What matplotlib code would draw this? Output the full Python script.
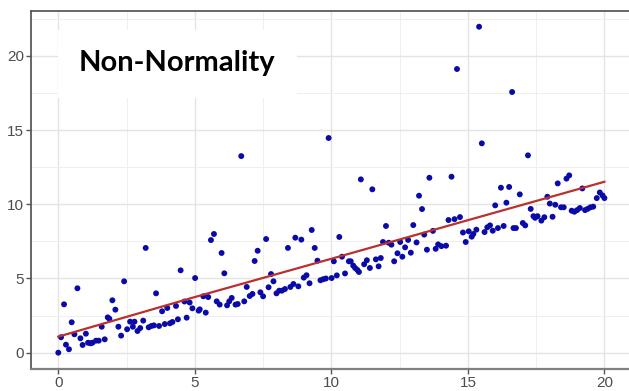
import numpy as np
import matplotlib
matplotlib.use("Agg")
from matplotlib import pyplot as plt
from matplotlib.patches import Rectangle

# scatter values
x = [0.00, 0.10, 0.21, 0.28, 0.39, 0.49, 0.59, 0.70, 0.81, 0.89,
     1.01, 1.09, 1.18, 1.25, 1.38, 1.48, 1.59, 1.70, 1.81, 1.87,
     1.98, 2.09, 2.20, 2.30, 2.41, 2.52, 2.63, 2.73, 2.79, 2.90,
     3.00, 3.11, 3.20, 3.31, 3.41, 3.50, 3.58, 3.69, 3.80, 3.90,
     3.99, 4.09, 4.18, 4.31, 4.38, 4.48, 4.62, 4.70, 4.81, 4.91,
     5.01, 5.14, 5.18, 5.31, 5.40, 5.49, 5.59, 5.70, 5.80, 5.91,
     5.98, 6.08, 6.18, 6.26, 6.35, 6.49, 6.57, 6.70, 6.81, 6.90,
     7.01, 7.11, 7.19, 7.30, 7.40, 7.50, 7.61, 7.70, 7.79, 7.88,
     7.99, 8.09, 8.19, 8.30, 8.41, 8.50, 8.61, 8.68, 8.79, 8.90,
     8.99, 9.09, 9.20, 9.28, 9.39, 9.49, 9.60, 9.70, 9.80, 9.90,
     10.01, 10.09, 10.20, 10.29, 10.39, 10.50, 10.64, 10.71, 10.80, 10.87,
     10.95, 11.01, 11.08, 11.20, 11.30, 11.41, 11.50, 11.63, 11.73, 11.81,
     11.89, 12.00, 12.10, 12.20, 12.30, 12.42, 12.52, 12.60, 12.70, 12.81,
     12.91, 13.00, 13.12, 13.21, 13.32, 13.40, 13.50, 13.59, 13.72, 13.82,
     13.91, 14.03, 14.20, 14.29, 14.40, 14.51, 14.60, 14.71, 14.82, 14.92,
     15.03, 15.14, 15.20, 15.31, 15.41, 15.51, 15.61, 15.71, 15.81, 15.91,
     16.00, 16.10, 16.21, 16.31, 16.41, 16.51, 16.62, 16.67, 16.76, 16.90,
     17.01, 17.10, 17.20, 17.30, 17.40, 17.46, 17.55, 17.69, 17.80, 17.91,
     18.00, 18.10, 18.20, 18.29, 18.41, 18.51, 18.61, 18.71, 18.80, 18.90,
     19.00, 19.10, 19.19, 19.29, 19.39, 19.49, 19.59, 19.72, 19.83, 19.93,
     20.00]
y = [0.00, 1.04, 3.26, 0.54, 0.23, 2.05, 1.24, 4.34, 0.97, 0.52,
     1.28, 0.67, 0.63, 0.67, 0.81, 0.81, 1.75, 0.90, 2.38, 2.29,
     3.53, 2.90, 1.75, 1.15, 4.81, 1.58, 2.09, 1.75, 2.09, 1.46,
     1.66, 2.16, 7.06, 1.71, 1.80, 1.84, 4.00, 1.80, 2.79, 1.93,
     3.01, 1.98, 2.07, 3.15, 2.25, 5.55, 3.45, 2.36, 3.38, 2.99,
     5.03, 2.83, 2.92, 3.80, 2.70, 3.75, 7.59, 8.00, 3.46, 3.24,
     6.72, 5.35, 3.19, 3.46, 3.69, 3.24, 3.28, 13.25, 3.46, 4.43,
     3.82, 3.96, 6.18, 6.87, 4.07, 3.80, 7.66, 4.41, 5.30, 4.81,
     4.00, 4.18, 4.18, 4.29, 7.06, 4.43, 4.63, 7.75, 4.47, 7.62,
     5.06, 5.22, 4.68, 8.27, 7.06, 6.20, 4.88, 4.95, 5.00, 14.47,
     5.03, 6.16, 5.21, 7.80, 6.47, 5.34, 6.16, 6.16, 5.87, 5.71,
     5.58, 5.44, 11.68, 5.96, 6.23, 5.71, 11.01, 6.29, 5.82, 6.38,
     7.46, 8.54, 7.41, 7.28, 6.16, 6.70, 7.46, 6.47, 7.10, 7.60,
     6.74, 8.60, 7.43, 10.58, 9.68, 7.96, 6.94, 11.79, 8.21, 7.00,
     7.30, 7.18, 7.21, 8.94, 11.86, 9.00, 19.12, 9.14, 8.10, 7.46,
     8.18, 7.82, 8.00, 8.29, 21.97, 14.11, 8.13, 8.45, 8.58, 8.22,
     9.93, 8.40, 11.12, 8.54, 10.11, 11.17, 17.57, 8.40, 8.40, 10.67,
     8.74, 8.58, 13.30, 9.69, 9.20, 9.09, 9.20, 8.90, 9.13, 10.51,
     10.05, 9.16, 9.97, 11.41, 9.80, 9.80, 11.73, 11.95, 9.57, 9.50,
     9.61, 9.75, 11.07, 9.61, 9.70, 9.80, 9.84, 10.42, 10.80, 10.60,
     10.42]

# fitted line as it appears in the picture
line_x = [0, 5, 10, 15, 20]
line_y = [1.08, 3.75, 6.33, 8.93, 11.52]

ticks = [0, 5, 10, 15, 20]
title = "Non-Normality"

fig = plt.figure(figsize=(6.29, 3.91), dpi=100)
ax = fig.add_axes([31/629, 22/391, 1 - 31/629, 358.3/391])

ax.set_xlim(-1.0, 20.9)
ax.set_ylim(-1.1, 23.05)
ax.set_xticks(ticks)
ax.set_yticks(ticks)
ax.set_xticks([2.5 + 5*i for i in range(4)], minor=True)
ax.set_yticks([2.5 + 5*i for i in range(5)], minor=True)
ax.grid(True, which="major", color="#e4e4e4", linewidth=1.0)
ax.grid(True, which="minor", color="#efefef", linewidth=0.7)
ax.set_axisbelow(True)

for s in ["left", "bottom", "top"]:
    ax.spines[s].set_color("#5a5a5a")
    ax.spines[s].set_linewidth(1.3)
ax.spines["right"].set_visible(False)
ax.spines["bottom"].set_color("#808080")
ax.spines["bottom"].set_linewidth(1.6)

ax.tick_params(axis="both", which="major", length=3.5, width=1.0, color="#555555",
               labelcolor="#4d4d4d", labelsize=11, pad=1.5)
ax.tick_params(axis="both", which="minor", length=0)
for lab in ax.get_xticklabels() + ax.get_yticklabels():
    lab.set_family("Liberation Sans")

# white box behind the title
ax.add_patch(Rectangle((0.0, 17.16), 8.74, 4.59, facecolor="white",
                       edgecolor="none", zorder=1.5))
ax.text(4.35, 18.98, title, ha="center", va="baseline", fontsize=21,
        fontweight="bold", family="Lato", color="black", zorder=3)

ax.scatter(x, y, s=18, color="#0a0aa8", edgecolors="none", zorder=3)
ax.plot(line_x, line_y, color="#b8312f", linewidth=1.6, zorder=4)

plt.savefig("out.png", dpi=100)
